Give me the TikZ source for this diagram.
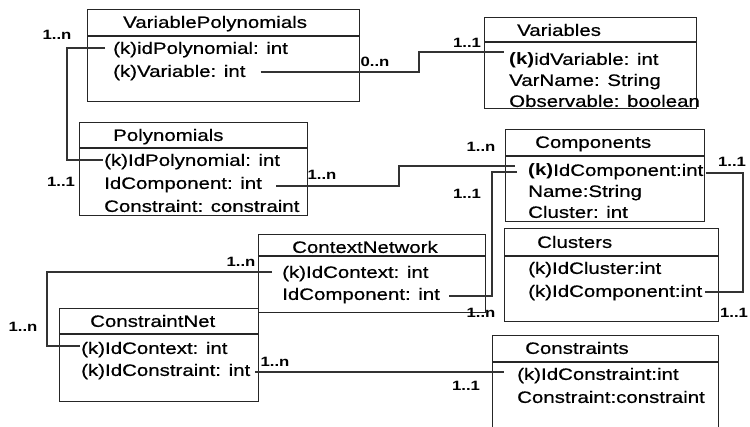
\documentclass[tikz,border=0pt]{standalone}
\usepackage{fontspec}
\setmainfont[FakeStretch=1.24,UprightFeatures={FakeBold=0.6}]{Liberation Sans}
\begin{document}
\begin{tikzpicture}[x=1pt,y=-1pt,
  frame/.style={draw=black!85, line width=1.2pt, inner sep=0pt, anchor=north west},
  rule/.style={draw=black!85, line width=1.2pt},
  field/.style={inner sep=0pt, anchor=west, text height=11.8pt, text depth=0pt,
                font=\fontsize{16.5}{20}\selectfont},
  card/.style={inner sep=0pt, font=\bfseries\fontsize{13.5}{15}\selectfont},
  link/.style={draw=black!80, line width=1.1pt}]
\useasboundingbox (0,0) rectangle (750,426);
\clip (0,0) rectangle (750,426);

% ---- tables ----
% VariablePolynomials
\node[frame, minimum width=272pt, minimum height=92pt] (vp) at (87,9) {};
\draw[rule] (87,36) -- (359,36);
\node[field] (vpT) at (123,22) {VariablePolynomials};
\node[field] (vp1) at (113,48) {(k)idPolynomial: int};
\node[field] (vp2) at (113,71) {(k)Variable: int};

% Variables
\node[frame, minimum width=212pt, minimum height=91pt] (var) at (484,17) {};
\draw[rule] (484,42) -- (696,42);
\node[field] (varT) at (517,30) {Variables};
\node[field] (var1) at (509,59) {\textbf{(k)}idVariable: int};
\node[field] (var2) at (509,80) {VarName: String};
\node[field] (var3) at (509,101) {Observable: boolean};

% Polynomials
\node[frame, minimum width=228pt, minimum height=93pt] (po) at (79,122) {};
\draw[rule] (79,148) -- (307,148);
\node[field] (poT) at (113,135) {Polynomials};
\node[field] (po1) at (104,160) {(k)IdPolynomial: int};
\node[field] (po2) at (104,183) {IdComponent: int};
\node[field] (po3) at (104,206) {Constraint: constraint};

% Components
\node[frame, minimum width=199pt, minimum height=92pt] (comp) at (505,129) {};
\draw[rule] (505,156) -- (704,156);
\node[field] (compT) at (535,142) {Components};
\node[field] (comp1) at (528,170) {\textbf{(k)}IdComponent:int};
\node[field] (comp2) at (528,191) {Name:String};
\node[field] (comp3) at (528,212) {Cluster: int};

% Clusters
\node[frame, minimum width=214pt, minimum height=93pt] (clu) at (504,228) {};
\draw[rule] (504,256) -- (718,256);
\node[field] (cluT) at (537,242) {Clusters};
\node[field] (clu1) at (528,268) {(k)IdCluster:int};
\node[field] (clu2) at (528,291) {(k)IdComponent:int};

% ContextNetwork
\node[frame, minimum width=227pt, minimum height=78pt] (ctx) at (258,234) {};
\draw[rule] (258,256) -- (485,256);
\node[field] (ctxT) at (292,247) {ContextNetwork};
\node[field] (ctx1) at (282,272) {(k)IdContext: int};
\node[field] (ctx2) at (282,294) {IdComponent: int};

% ConstraintNet
\node[frame, minimum width=199pt, minimum height=93pt] (cnet) at (59,308) {};
\draw[rule] (59,334) -- (258,334);
\node[field] (cnetT) at (90,321) {ConstraintNet};
\node[field] (cnet1) at (81,348) {(k)IdContext: int};
\node[field] (cnet2) at (81,370) {(k)IdConstraint: int};

% Constraints (runs off the lower edge)
\node[frame, minimum width=226pt, minimum height=110pt] (cs) at (492,335) {};
\draw[rule] (492,362) -- (718,362);
\node[field] (csT) at (525,348) {Constraints};
\node[field] (cs1) at (517,374) {(k)IdConstraint:int};
\node[field] (cs2) at (517,397) {Constraint:constraint};

% ---- bend points of the connectors ----
\coordinate (b1) at (67,100);
\coordinate (b2) at (419,60);
\coordinate (b3) at (399,176);
\coordinate (b4) at (492,230);
\coordinate (b5) at (743,230);
\coordinate (b6) at (47,310);

% ---- connectors ----
\draw[link] ([xshift=-8pt]vp1.west) -| (b1) |- ([xshift=-1pt]po1.west);
\draw[link] ([xshift=15pt,yshift=-1pt]vp2.east) -| (b2) |- ([xshift=-5pt,yshift=7pt]var1.west);
\draw[link] ([xshift=14pt,yshift=-3pt]po2.east) -| (b3) |- ([xshift=-13pt,yshift=4pt]comp1.west);
\draw[link] ([xshift=-11pt,yshift=-2pt]comp1.west) -| (b4) |- ([xshift=9pt,yshift=-2pt]ctx2.east);
\draw[link] ([xshift=2pt,yshift=-3pt]comp1.east) -| (b5) |- ([xshift=3pt,yshift=-1pt]clu2.east);
\draw[link] ([xshift=-10pt]ctx1.west) -| (b6) |- ([xshift=-1pt,yshift=2pt]cnet1.west);
\coordinate (c7s) at ([xshift=5pt,yshift=-2pt]cnet2.east);
\coordinate (c7e) at ([xshift=-13pt]cs1.west);
\draw[link] (c7s) -- (c7s -| c7e);

% ---- multiplicities ----
\node[card] (m1a) at (57,35) {1..n};
\node[card] (m1b) at (61,182) {1..1};
\node[card] (m2a) at (375,62) {0..n};
\node[card] (m2b) at (467,43) {1..1};
\node[card] (m3a) at (322,175) {1..n};
\node[card] (m3b) at (481,147) {1..n};
\node[card] (m4a) at (467,194) {1..1};
\node[card] (m4b) at (481,313) {1..n};
\node[card] (m5a) at (732,162) {1..1};
\node[card] (m5b) at (734,313) {1..1};
\node[card] (m6a) at (241,262) {1..n};
\node[card] (m6b) at (23,327) {1..n};
\node[card] (m7a) at (275,362) {1..n};
\node[card] (m7b) at (466,386) {1..1};
\end{tikzpicture}
\end{document}
